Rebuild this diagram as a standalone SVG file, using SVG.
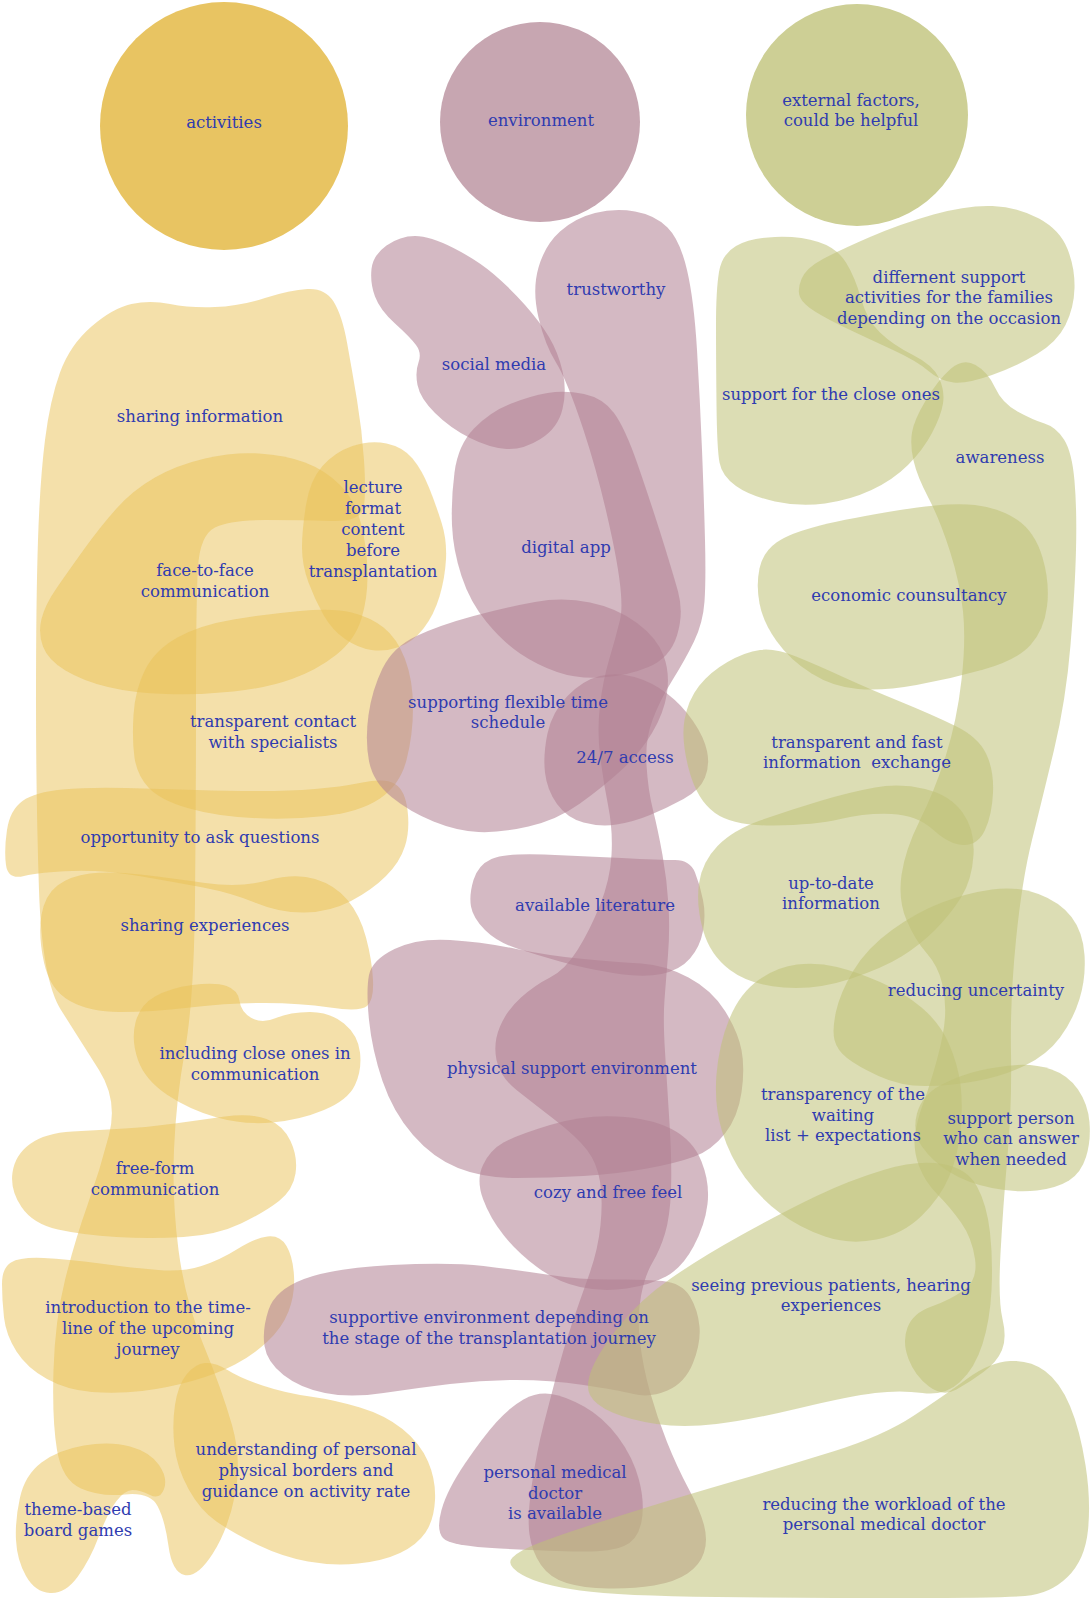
<svg xmlns="http://www.w3.org/2000/svg" width="1091" height="1598" viewBox="0 0 1091 1598">
<style>
  .g { fill:#e9c255; fill-opacity:0.5; }
  .m { fill:#b07f91; fill-opacity:0.55; }
  .o { fill:#bfc177; fill-opacity:0.55; }
  .lbl text { font-family:"DejaVu Serif","Liberation Serif",serif; font-size:16.5px; fill:#2f3bb0; text-anchor:middle; white-space:pre; }
</style>
<rect width="1091" height="1598" fill="#ffffff"/>

<g id="nodes">
  <!-- category circles -->
  <g id="n-activities"><circle cx="224" cy="126" r="124" fill="#e8c462"/></g>
  <g id="n-environment"><circle cx="540" cy="122" r="100" fill="#c7a6b1"/></g>
  <g id="n-external"><circle cx="857" cy="115" r="111" fill="#cdcf95"/></g>

  <!-- activities -->
  <g id="n-sharing-information"><path class="g" d="M60,372.5 Q70,345 91.5,326.5 Q113,308 131.5,304 Q150,300 170,304 Q190,308 215,307 Q240,306 265,298 Q290,290 307.5,289 Q325,288 333.5,301.5 Q342,315 347,342.5 Q352,370 357,400 Q362,430 364,460 Q366,490 364,506 Q362,522 331,521 Q300,520 265,520 Q230,520 215,527.5 Q200,535 198,567.5 Q196,600 196,700 Q196,800 195,900 Q194,1000 185,1050 Q176,1100 174,1150 Q172,1200 178.5,1250 Q185,1300 203.5,1345 Q222,1390 232,1425 Q242,1460 235,1495 Q228,1530 212.5,1554 Q197,1578 184.5,1575 Q172,1572 168.5,1546 Q165,1520 157.5,1506 Q150,1492 125,1494.5 Q100,1497 81,1488.5 Q62,1480 57,1450 Q52,1420 53.5,1370 Q55,1320 65,1280 Q75,1240 87.5,1205 Q100,1170 109,1135 Q118,1100 99,1070 Q80,1040 61,1010 Q42,980 39,890 Q36,800 36,700 Q36,600 38,540 Q40,480 45,440 Q50,400 60,372.5 Z"/></g>
  <g id="n-face-to-face"><path class="g" d="M43,646.5 Q38,633 41.5,619 Q45,605 56,589 Q67,573 83.5,550 Q100,527 116.5,508.5 Q133,490 155,477.5 Q177,465 205,458.5 Q233,452 259,453.5 Q285,455 305,462.5 Q325,470 340,485 Q355,500 361,523.5 Q367,547 367.5,572 Q368,597 361.5,618.5 Q355,640 336,655 Q317,670 292,679 Q267,688 233.5,691.5 Q200,695 166.5,694 Q133,693 108,687 Q83,681 65.5,670.5 Q48,660 43,646.5 Z"/></g>
  <g id="n-lecture-format"><path class="g" d="M302,547.5 Q302,530 306,505 Q310,480 322.5,466 Q335,452 352.5,446 Q370,440 386.5,443.5 Q403,447 412.5,458.5 Q422,470 429,487.5 Q436,505 441.5,522.5 Q447,540 446,559 Q445,578 439.5,596.5 Q434,615 423.5,628.5 Q413,642 399,647 Q385,652 371.5,650 Q358,648 345,639 Q332,630 323.5,615 Q315,600 308.5,582.5 Q302,565 302,547.5 Z"/></g>
  <g id="n-transparent-contact"><path class="g" d="M134.5,757.5 Q132,740 133.5,715 Q135,690 145,670 Q155,650 177.5,637.5 Q200,625 233.5,619.5 Q267,614 300,611 Q333,608 351.5,612.5 Q370,617 383.5,627.5 Q397,638 405,659 Q413,680 413,707.5 Q413,735 406.5,760 Q400,785 380,798.5 Q360,812 325,816 Q290,820 252.5,818 Q215,816 187.5,808 Q160,800 148.5,787.5 Q137,775 134.5,757.5 Z"/></g>
  <g id="n-ask-questions"><path class="g" d="M6,865 Q4,850 7,830 Q10,810 22.5,801 Q35,792 62.5,789.5 Q90,787 125,788 Q160,789 195,790 Q230,791 260,791 Q290,791 315,789 Q340,787 362.5,782.5 Q385,778 395,784 Q405,790 407.5,810 Q410,830 405,846 Q400,862 386,876 Q372,890 351,901 Q330,912 305,912.5 Q280,913 256,903 Q232,893 203,887.5 Q174,882 139,876 Q104,870 72,871 Q40,872 24,876 Q8,880 6,865 Z"/></g>
  <g id="n-sharing-experiences"><path class="g" d="M44,962.5 Q38,935 41.5,915 Q45,895 57.5,885.5 Q70,876 90,873.5 Q110,871 140,874.5 Q170,878 205,883 Q240,888 267.5,880.5 Q295,873 315,879 Q335,885 347.5,900 Q360,915 366,937.5 Q372,960 373,980 Q374,1000 367,1006 Q360,1012 330,1007.5 Q300,1003 265,1003 Q230,1003 190,1007.5 Q150,1012 120,1012 Q90,1012 70,1001 Q50,990 44,962.5 Z"/></g>
  <g id="n-including-close-ones"><path class="g" d="M138,1060 Q131,1040 135.5,1022.5 Q140,1005 155,996.5 Q170,988 192.5,985 Q215,982 226.5,986 Q238,990 239.5,1001 Q241,1012 251.5,1018 Q262,1024 276,1018 Q290,1012 310,1012 Q330,1012 344,1023.5 Q358,1035 360,1052.5 Q362,1070 355,1085 Q348,1100 324,1110 Q300,1120 272,1122.5 Q244,1125 217,1117.5 Q190,1110 167.5,1095 Q145,1080 138,1060 Z"/></g>
  <g id="n-free-form"><path class="g" d="M21.5,1207 Q10,1190 12.5,1172.5 Q15,1155 30,1144 Q45,1133 72.5,1131.5 Q100,1130 125,1128.5 Q150,1127 175,1123.5 Q200,1120 225,1116.5 Q250,1113 266.5,1119 Q283,1125 290.5,1141 Q298,1157 295.5,1173.5 Q293,1190 279,1201 Q265,1212 241,1223.5 Q217,1235 183.5,1237 Q150,1239 116.5,1237 Q83,1235 58,1229.5 Q33,1224 21.5,1207 Z"/></g>
  <g id="n-timeline"><path class="g" d="M4,1317.5 Q2,1300 2,1284 Q2,1268 11,1262.5 Q20,1257 43.5,1258 Q67,1259 100,1263.5 Q133,1268 158,1270 Q183,1272 201.5,1266 Q220,1260 237.5,1249 Q255,1238 267.5,1236.5 Q280,1235 286.5,1246 Q293,1257 294,1276 Q295,1295 288.5,1311.5 Q282,1328 267.5,1341.5 Q253,1355 235,1364.5 Q217,1374 192,1381 Q167,1388 142,1391 Q117,1394 92,1392 Q67,1390 47,1379 Q27,1368 16.5,1351.5 Q6,1335 4,1317.5 Z"/></g>
  <g id="n-physical-borders"><path class="g" d="M174.5,1446.5 Q172,1425 175,1405 Q178,1385 186.5,1374.5 Q195,1364 205,1363 Q215,1362 227.5,1370 Q240,1378 262.5,1385.5 Q285,1393 310,1396.5 Q335,1400 360,1407.5 Q385,1415 402.5,1429 Q420,1443 428,1461.5 Q436,1480 435,1500 Q434,1520 425.5,1532.5 Q417,1545 400,1553 Q383,1561 358,1563.5 Q333,1566 308,1561.5 Q283,1557 258,1545 Q233,1533 216.5,1521.5 Q200,1510 188.5,1489 Q177,1468 174.5,1446.5 Z"/></g>
  <g id="n-board-games"><path class="g" d="M16,1540 Q15,1520 20,1497.5 Q25,1475 41.5,1462.5 Q58,1450 84,1445.5 Q110,1441 130,1446.5 Q150,1452 159,1465 Q168,1478 164,1489 Q160,1500 150,1495 Q140,1490 132.5,1490 Q125,1490 116.5,1501 Q108,1512 99,1536 Q90,1560 77.5,1577 Q65,1594 50,1593 Q35,1592 26,1576 Q17,1560 16,1540 Z"/></g>

  <!-- environment -->
  <g id="n-social-media"><path class="m" d="M375,296.5 Q370,283 371.5,269 Q373,255 386.5,245.5 Q400,236 415,236 Q430,236 453.5,248 Q477,260 493.5,274 Q510,288 525,305 Q540,322 549,337 Q558,352 562.5,371 Q567,390 562.5,409 Q558,428 540.5,439 Q523,450 506.5,449 Q490,448 470,438 Q450,428 435,413 Q420,398 417.5,385 Q415,372 418.5,362.5 Q422,353 416,345 Q410,337 395,323.5 Q380,310 375,296.5 Z"/></g>
  <g id="n-trustworthy"><path class="m" d="M595,213 Q615,208 635,211.5 Q655,215 667.5,227.5 Q680,240 687,270 Q694,300 697,350 Q700,400 702,450 Q704,500 705,540 Q706,580 704.5,601.5 Q703,623 694,641.5 Q685,660 672.5,680 Q660,700 652.5,720 Q645,740 646.5,765 Q648,790 653,810 Q658,830 662.5,855 Q667,880 668.5,905 Q670,930 668,955 Q666,980 664.5,1000 Q663,1020 665,1051.5 Q667,1083 669.5,1123 Q672,1163 671,1190 Q670,1217 665,1233.5 Q660,1250 652.5,1262.5 Q645,1275 641,1296 Q637,1317 640,1342 Q643,1367 650,1392 Q657,1417 667,1442 Q677,1467 688.5,1488.5 Q700,1510 704,1525 Q708,1540 704,1552.5 Q700,1565 687.5,1573.5 Q675,1582 654,1585.5 Q633,1589 608,1588.5 Q583,1588 566.5,1583 Q550,1578 541,1565 Q532,1552 529.5,1534.5 Q527,1517 532,1483.5 Q537,1450 543.5,1425 Q550,1400 556.5,1375 Q563,1350 571.5,1325 Q580,1300 589,1275 Q598,1250 600.5,1225 Q603,1200 600,1181.5 Q597,1163 587,1150 Q577,1137 555,1120 Q533,1103 516.5,1090 Q500,1077 496.5,1060 Q493,1043 500,1026.5 Q507,1010 521,997.5 Q535,985 550,977.5 Q565,970 577.5,950 Q590,930 600,905 Q610,880 611.5,855 Q613,830 608,805 Q603,780 600,755 Q597,730 600,705 Q603,680 609,660 Q615,640 620,620 Q625,600 612.5,540 Q600,480 583.5,430 Q567,380 556,362.5 Q545,345 538.5,317.5 Q532,290 538.5,267.5 Q545,245 560,231.5 Q575,218 595,213 Z"/></g>
  <g id="n-digital-app"><path class="m" d="M452,525 Q451,500 454.5,472.5 Q458,445 474,428.5 Q490,412 510,404 Q530,396 547.5,393 Q565,390 584,394 Q603,398 614,413 Q625,428 637.5,464 Q650,500 661,535 Q672,570 678,591.5 Q684,613 677,635.5 Q670,658 648.5,667 Q627,676 602,677.5 Q577,679 557,672 Q537,665 520,653.5 Q503,642 486.5,622 Q470,602 461.5,576 Q453,550 452,525 Z"/></g>
  <g id="n-flexible-time"><path class="m" d="M369,761 Q365,740 368.5,715 Q372,690 382.5,668.5 Q393,647 416.5,636 Q440,625 473.5,616 Q507,607 535,602 Q563,597 590,602.5 Q617,608 637,623 Q657,638 663.5,655.5 Q670,673 667,693 Q664,713 652,733 Q640,753 621.5,770 Q603,787 580,803.5 Q557,820 528.5,826.5 Q500,833 478.5,832 Q457,831 433.5,821.5 Q410,812 391.5,797 Q373,782 369,761 Z"/></g>
  <g id="n-access"><path class="m" d="M545,772.5 Q543,755 547.5,733.5 Q552,712 567.5,696 Q583,680 600,676 Q617,672 634.5,677 Q652,682 667,693.5 Q682,705 693,721 Q704,737 707,751 Q710,765 705,777.5 Q700,790 683.5,799 Q667,808 650,815 Q633,822 616.5,824.5 Q600,827 583.5,822.5 Q567,818 557,804 Q547,790 545,772.5 Z"/></g>
  <g id="n-literature"><path class="m" d="M471,906.5 Q469,895 473.5,880 Q478,865 491.5,859 Q505,853 544,854.5 Q583,856 621.5,858 Q660,860 675,860 Q690,860 695,872.5 Q700,885 703,900 Q706,915 703,931 Q700,947 690,958.5 Q680,970 661.5,974 Q643,978 613,973 Q583,968 560,961.5 Q537,955 517,948.5 Q497,942 485,930 Q473,918 471,906.5 Z"/></g>
  <g id="n-physical-support"><path class="m" d="M369,1020 Q366,990 369,975 Q372,960 394.5,949 Q417,938 450,940 Q483,942 516.5,949 Q550,956 583.5,959 Q617,962 641,963.5 Q665,965 688.5,977.5 Q712,990 725,1011 Q738,1032 741.5,1050 Q745,1068 741.5,1092.5 Q738,1117 725,1133.5 Q712,1150 694.5,1156.5 Q677,1163 647,1168.5 Q617,1174 583.5,1176 Q550,1178 516.5,1178 Q483,1178 458,1168 Q433,1158 413,1135 Q393,1112 382.5,1081 Q372,1050 369,1020 Z"/></g>
  <g id="n-cozy"><path class="m" d="M483,1199 Q476,1180 483,1165 Q490,1150 503.5,1142.5 Q517,1135 550,1125 Q583,1115 616.5,1116.5 Q650,1118 671.5,1129 Q693,1140 701.5,1161.5 Q710,1183 707.5,1204 Q705,1225 693.5,1246.5 Q682,1268 666,1276.5 Q650,1285 626.5,1288.5 Q603,1292 580,1287 Q557,1282 537,1267 Q517,1252 503.5,1235 Q490,1218 483,1199 Z"/></g>
  <g id="n-supportive-stage"><path class="m" d="M264.5,1346 Q262,1330 268.5,1310 Q275,1290 304,1279 Q333,1268 391.5,1265 Q450,1262 483.5,1266 Q517,1270 550,1275 Q583,1280 613,1279.5 Q643,1279 662.5,1281 Q682,1283 690,1296.5 Q698,1310 699.5,1326.5 Q701,1343 693,1363 Q685,1383 667.5,1390.5 Q650,1398 633.5,1394 Q617,1390 583.5,1385 Q550,1380 516.5,1380 Q483,1380 450,1384 Q417,1388 383.5,1393 Q350,1398 325,1393 Q300,1388 283.5,1375 Q267,1362 264.5,1346 Z"/></g>
  <g id="n-medical-doctor"><path class="m" d="M443,1538 Q436,1530 441.5,1510 Q447,1490 465,1463.5 Q483,1437 496.5,1422 Q510,1407 523.5,1399.5 Q537,1392 551,1394 Q565,1396 584,1406.5 Q603,1417 618,1437 Q633,1457 639,1480 Q645,1503 641.5,1521.5 Q638,1540 624,1546 Q610,1552 580,1551.5 Q550,1551 500,1548.5 Q450,1546 443,1538 Z"/></g>

  <!-- external factors -->
  <g id="n-close-ones"><path class="o" d="M716,325 Q716,290 719,272 Q722,254 736,246 Q750,238 775,237 Q800,236 818.5,242 Q837,248 846,262.5 Q855,277 861,298.5 Q867,320 880,332.5 Q893,345 913,355 Q933,365 939,378 Q945,391 943,403.5 Q941,416 932,433 Q923,450 908,465 Q893,480 871.5,490 Q850,500 825,503.5 Q800,507 775,501.5 Q750,496 736,486 Q722,476 719.5,462.5 Q717,449 716.5,404.5 Q716,360 716,325 Z"/></g>
  <g id="n-family-activities"><path class="o" d="M800,297 Q797,290 801.5,279 Q806,268 823,259 Q840,250 870,237 Q900,224 933.5,214.5 Q967,205 992.5,206 Q1018,207 1039,218.5 Q1060,230 1067.5,249 Q1075,268 1074.5,288 Q1074,308 1065.5,325 Q1057,342 1037,354 Q1017,366 992,375 Q967,384 953.5,382.5 Q940,381 928.5,371 Q917,361 892,349.5 Q867,338 847,328.5 Q827,319 815,311.5 Q803,304 800,297 Z"/></g>
  <g id="n-awareness"><path class="o" d="M950.5,369 Q963,358 975.5,365 Q988,372 995,387.5 Q1002,403 1017.5,411.5 Q1033,420 1044.5,423.5 Q1056,427 1064,439.5 Q1072,452 1074.5,481 Q1077,510 1076,550 Q1075,590 1070.5,645 Q1066,700 1054,750 Q1042,800 1032,840 Q1022,880 1016,940 Q1010,1000 1011,1052.5 Q1012,1105 1007.5,1156 Q1003,1207 1000.5,1253.5 Q998,1300 1002.5,1319 Q1007,1338 1002,1350 Q997,1362 983.5,1372 Q970,1382 956.5,1389.5 Q943,1397 929,1386.5 Q915,1376 908.5,1359 Q902,1342 907.5,1327.5 Q913,1313 931.5,1306.5 Q950,1300 964,1290 Q978,1280 975,1259 Q972,1238 961,1222.5 Q950,1207 937.5,1194.5 Q925,1182 919,1166 Q913,1150 915,1135 Q917,1120 923.5,1102.5 Q930,1085 937,1059.5 Q944,1034 945,1017 Q946,1000 942,983 Q938,966 926.5,953 Q915,940 906.5,920 Q898,900 901.5,875 Q905,850 920,820 Q935,790 946,755 Q957,720 961.5,680 Q966,640 963,611.5 Q960,583 950,551.5 Q940,520 928.5,498 Q917,476 913.5,460.5 Q910,445 912,432.5 Q914,420 926,400 Q938,380 950.5,369 Z"/></g>
  <g id="n-economic"><path class="o" d="M759.5,603.5 Q756,585 759.5,568.5 Q763,552 776.5,542.5 Q790,533 820,525.5 Q850,518 900,510 Q950,502 975,505 Q1000,508 1017.5,520 Q1035,532 1042.5,557.5 Q1050,583 1047,606.5 Q1044,630 1030.5,645 Q1017,660 983.5,669.5 Q950,679 916.5,685 Q883,691 858,689 Q833,687 811.5,673.5 Q790,660 776.5,641 Q763,622 759.5,603.5 Z"/></g>
  <g id="n-fast-exchange"><path class="o" d="M689,770 Q681,740 684.5,720 Q688,700 699,686 Q710,672 727.5,662 Q745,652 760,650 Q775,648 796,656.5 Q817,665 842,676.5 Q867,688 900,701.5 Q933,715 955.5,726 Q978,737 986,753.5 Q994,770 993,792.5 Q992,815 985,830 Q978,845 964,845 Q950,845 933.5,830 Q917,815 891.5,814 Q866,813 840.5,819 Q815,825 774,825.5 Q733,826 715,813 Q697,800 689,770 Z"/></g>
  <g id="n-up-to-date"><path class="o" d="M703,930 Q696,905 699,883.5 Q702,862 717.5,846 Q733,830 761.5,820 Q790,810 820,801 Q850,792 875,787.5 Q900,783 925,789 Q950,795 962.5,812.5 Q975,830 973.5,855 Q972,880 961,897.5 Q950,915 935,930 Q920,945 901.5,956.5 Q883,968 850,979 Q817,990 783.5,987.5 Q750,985 730,970 Q710,955 703,930 Z"/></g>
  <g id="n-uncertainty"><path class="o" d="M834.5,1040 Q832,1030 836,1011.5 Q840,993 853.5,970.5 Q867,948 892,930 Q917,912 942,902.5 Q967,893 992,889.5 Q1017,886 1038.5,894 Q1060,902 1071.5,917 Q1083,932 1084.5,955 Q1086,978 1079.5,999 Q1073,1020 1060,1037.5 Q1047,1055 1025,1065.5 Q1003,1076 976.5,1081 Q950,1086 925,1086 Q900,1086 878.5,1076 Q857,1066 847,1058 Q837,1050 834.5,1040 Z"/></g>
  <g id="n-waiting-list"><path class="o" d="M722,1131 Q714,1105 716.5,1074.5 Q719,1044 729.5,1018.5 Q740,993 758.5,980 Q777,967 797,964.5 Q817,962 837,967 Q857,972 880,982 Q903,992 921.5,1007.5 Q940,1023 949,1044 Q958,1065 960.5,1085 Q963,1105 960.5,1130.5 Q958,1156 949,1177 Q940,1198 921.5,1216 Q903,1234 876.5,1239.5 Q850,1245 825,1236.5 Q800,1228 780,1213 Q760,1198 745,1177.5 Q730,1157 722,1131 Z"/></g>
  <g id="n-support-person"><path class="o" d="M922,1146.5 Q912,1132 917,1113.5 Q922,1095 941,1085 Q960,1075 980,1070.5 Q1000,1066 1017.5,1065 Q1035,1064 1051.5,1069.5 Q1068,1075 1078,1089.5 Q1088,1104 1089.5,1122.5 Q1091,1141 1086,1157 Q1081,1173 1069,1180.5 Q1057,1188 1037,1190.5 Q1017,1193 992,1188 Q967,1183 949.5,1172 Q932,1161 922,1146.5 Z"/></g>
  <g id="n-previous-patients"><path class="o" d="M590,1395 Q585,1385 592.5,1367.5 Q600,1350 620,1325 Q640,1300 670,1279 Q700,1258 741.5,1235 Q783,1212 816.5,1196 Q850,1180 883.5,1170 Q917,1160 942,1164 Q967,1168 977,1186.5 Q987,1205 990,1232.5 Q993,1260 991.5,1290 Q990,1320 982.5,1344 Q975,1368 960,1382 Q945,1396 922.5,1393 Q900,1390 875,1393 Q850,1396 800,1408 Q750,1420 716.5,1424 Q683,1428 656.5,1424 Q630,1420 612.5,1412.5 Q595,1405 590,1395 Z"/></g>
  <g id="n-workload"><path class="o" d="M522.5,1575 Q505,1565 512.5,1557.5 Q520,1550 540,1542.5 Q560,1535 580,1528.5 Q600,1522 641.5,1509 Q683,1496 733,1481.5 Q783,1467 833,1451.5 Q883,1436 914,1415.5 Q945,1395 967.5,1378.5 Q990,1362 1010,1361 Q1030,1360 1045,1371 Q1060,1382 1070,1406 Q1080,1430 1085.5,1465 Q1091,1500 1088,1530 Q1085,1560 1067.5,1577 Q1050,1594 1025,1596 Q1000,1598 907.5,1598 Q815,1598 717.5,1597 Q620,1596 580,1590.5 Q540,1585 522.5,1575 Z"/></g>
</g>

<g id="connectors"/>

<g id="labels" class="lbl">
  <text x="224" y="128">activities</text>
  <text x="541" y="126">environment</text>
  <text x="851" y="106">external factors,<tspan x="851" y="126">could be helpful</tspan></text>

  <text x="200" y="422">sharing information</text>
  <text x="205" y="576">face-to-face<tspan x="205" y="597">communication</tspan></text>
  <text x="373" y="493">lecture<tspan x="373" y="514">format</tspan><tspan x="373" y="535">content</tspan><tspan x="373" y="556">before</tspan><tspan x="373" y="577">transplantation</tspan></text>
  <text x="273" y="727">transparent contact<tspan x="273" y="748">with specialists</tspan></text>
  <text x="200" y="843">opportunity to ask questions</text>
  <text x="205" y="931">sharing experiences</text>
  <text x="255" y="1059">including close ones in<tspan x="255" y="1080">communication</tspan></text>
  <text x="155" y="1174">free-form<tspan x="155" y="1195">communication</tspan></text>
  <text x="148" y="1313">introduction to the time-<tspan x="148" y="1334">line of the upcoming</tspan><tspan x="148" y="1355">journey</tspan></text>
  <text x="306" y="1455">understanding of personal<tspan x="306" y="1476">physical borders and</tspan><tspan x="306" y="1497">guidance on activity rate</tspan></text>
  <text x="78" y="1515">theme-based<tspan x="78" y="1536">board games</tspan></text>

  <text x="616" y="295">trustworthy</text>
  <text x="494" y="370">social media</text>
  <text x="566" y="553">digital app</text>
  <text x="508" y="708">supporting flexible time<tspan x="508" y="728">schedule</tspan></text>
  <text x="625" y="763">24/7 access</text>
  <text x="595" y="911">available literature</text>
  <text x="572" y="1074">physical support environment</text>
  <text x="608" y="1198">cozy and free feel</text>
  <text x="489" y="1323">supportive environment depending on<tspan x="489" y="1344">the stage of the transplantation journey</tspan></text>
  <text x="555" y="1478">personal medical<tspan x="555" y="1499">doctor</tspan><tspan x="555" y="1519">is available</tspan></text>

  <text x="949" y="283">differnent support<tspan x="949" y="303">activities for the families</tspan><tspan x="949" y="324">depending on the occasion</tspan></text>
  <text x="831" y="400">support for the close ones</text>
  <text x="1000" y="463">awareness</text>
  <text x="909" y="601">economic counsultancy</text>
  <text x="857" y="748">transparent and fast<tspan x="857" y="768">information  exchange</tspan></text>
  <text x="831" y="889">up-to-date<tspan x="831" y="909">information</tspan></text>
  <text x="976" y="996">reducing uncertainty</text>
  <text x="843" y="1100">transparency of the<tspan x="843" y="1121">waiting</tspan><tspan x="843" y="1141">list + expectations</tspan></text>
  <text x="1011" y="1124">support person<tspan x="1011" y="1144">who can answer</tspan><tspan x="1011" y="1165">when needed</tspan></text>
  <text x="831" y="1291">seeing previous patients, hearing<tspan x="831" y="1311">experiences</tspan></text>
  <text x="884" y="1510">reducing the workload of the<tspan x="884" y="1530">personal medical doctor</tspan></text>
</g>
</svg>
